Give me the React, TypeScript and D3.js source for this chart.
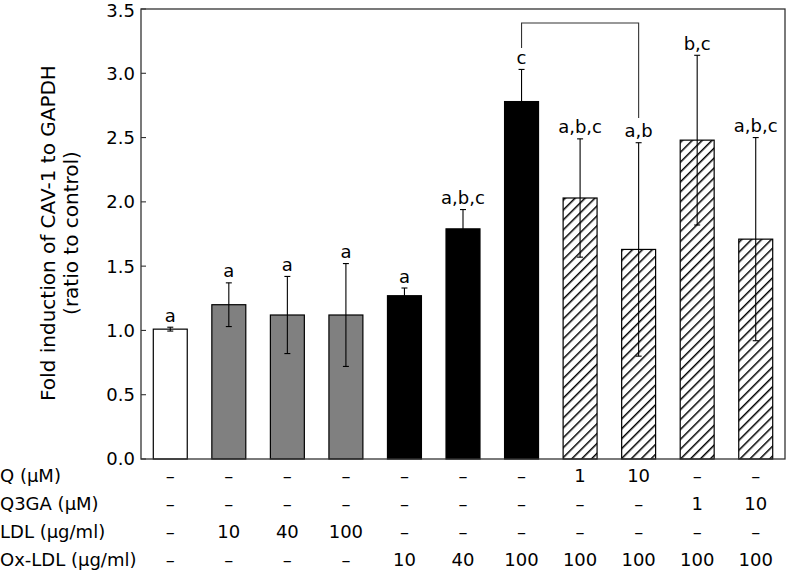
import React from "react";
import * as d3 from "d3";

const categories = ["g1","g2","g3","g4","g5","g6","g7","g8","g9","g10","g11"];
const values = [1.01, 1.2, 1.12, 1.12, 1.27, 1.79, 2.78, 2.03, 1.63, 2.48, 1.71];
const errors = [0.015, 0.17, 0.3, 0.4, 0.06, 0.15, 0.25, 0.46, 0.83, 0.66, 0.79];
const fills = ["white","gray","gray","gray","black","black","black","hatch","hatch","hatch","hatch"];
const letters = ["a","a","a","a","a","a,b,c","c","a,b,c","a,b","b,c","a,b,c"];
const yTicks = [0, 0.5, 1.0, 1.5, 2.0, 2.5, 3.0, 3.5];
const rowLabels = ["Q (μM)", "Q3GA (μM)", "LDL (μg/ml)", "Ox-LDL (μg/ml)"];
const rowQ = ["–","–","–","–","–","–","–","1","10","–","–"];
const rowQ3GA = ["–","–","–","–","–","–","–","–","–","1","10"];
const rowLDL = ["–","10","40","100","–","–","–","–","–","–","–"];
const rowOxLDL = ["–","–","–","–","10","40","100","100","100","100","100"];
const bracketPair = [6, 8];

export default function App() {
  const W = 787, H = 571;
  const left = 141, right = 785, top = 9, bottom = 459;
  const font = "DejaVu Sans, Verdana, sans-serif";
  const fs = 18;
  const x = d3.scaleBand<string>().domain(categories).range([left, right]).paddingInner(0.42).paddingOuter(0.21);
  const y = d3.scaleLinear().domain([0, 3.5]).range([bottom, top]);
  const bw = x.bandwidth();
  const cx = (i: number) => (x(categories[i]) as number) + bw / 2;
  const rows = [rowQ, rowQ3GA, rowLDL, rowOxLDL];
  const rowY = [482, 510, 538, 566];
  const fillFor = (f: string) => f === "gray" ? "#808080" : f === "black" ? "#000" : f === "white" ? "#fff" : "url(#hatch)";
  const capW = 6;
  return (
    <svg width={W} height={H} style={{ position: "absolute", left: 0, top: 0, background: "#fff" }} fontFamily={font}>
      <defs>
        <pattern id="hatch" width={7} height={7} patternUnits="userSpaceOnUse" patternTransform="rotate(45)">
          <rect width={7} height={7} fill="#fff" />
          <line x1={0} y1={0} x2={0} y2={7} stroke="#000" strokeWidth={3} />
        </pattern>
      </defs>
      {categories.map((c, i) => (
        <rect key={c} x={x(c)} y={y(values[i])} width={bw} height={y(0) - y(values[i])}
          fill={fillFor(fills[i])} stroke="#000" strokeWidth={1.2} />
      ))}
      {categories.map((c, i) => {
        const hi = y(values[i] + errors[i]);
        const lo = y(values[i] - errors[i]);
        const xc = cx(i);
        return (
          <g key={"e" + c} stroke="#000" strokeWidth={1.1}>
            <line x1={xc} x2={xc} y1={hi} y2={lo} />
            <line x1={xc - capW / 2} x2={xc + capW / 2} y1={hi} y2={hi} />
            <line x1={xc - capW / 2} x2={xc + capW / 2} y1={lo} y2={lo} />
          </g>
        );
      })}
      {categories.map((c, i) => (
        <text key={"l" + c} x={cx(i)} y={y(values[i] + errors[i]) - 5.5} textAnchor="middle" fontSize={fs} fill="#000">{letters[i]}</text>
      ))}
      <path d={`M${cx(bracketPair[0])},48 V23 H${cx(bracketPair[1])} V118`} fill="none" stroke="#333" strokeWidth={1.1} />
      <rect x={left} y={top} width={right - left} height={bottom - top} fill="none" stroke="#333" strokeWidth={1.3} />
      {yTicks.map(t => (
        <g key={t}>
          <line x1={left} x2={left + 5} y1={y(t)} y2={y(t)} stroke="#333" strokeWidth={1.1} />
          <text x={135} y={y(t)} dy={t === 3.5 ? "0.42em" : "0.36em"} textAnchor="end" fontSize={fs} fill="#000">{t.toFixed(1)}</text>
        </g>
      ))}
      <g transform={`translate(55,233) rotate(-90)`}>
        <text x={0} y={0} textAnchor="middle" fontSize={20} fill="#000">Fold induction of CAV-1 to GAPDH</text>
        <text x={0} y={23} textAnchor="middle" fontSize={20} fill="#000">(ratio to control)</text>
      </g>
      {rowLabels.map((lab, r) => (
        <g key={lab}>
          <text x={0} y={rowY[r]} fontSize={fs} fill="#000">{lab}</text>
          {rows[r].map((v, i) => (
            <text key={i} x={cx(i)} y={rowY[r]} textAnchor="middle" fontSize={fs} fill="#000">{v}</text>
          ))}
        </g>
      ))}
    </svg>
  );
}
